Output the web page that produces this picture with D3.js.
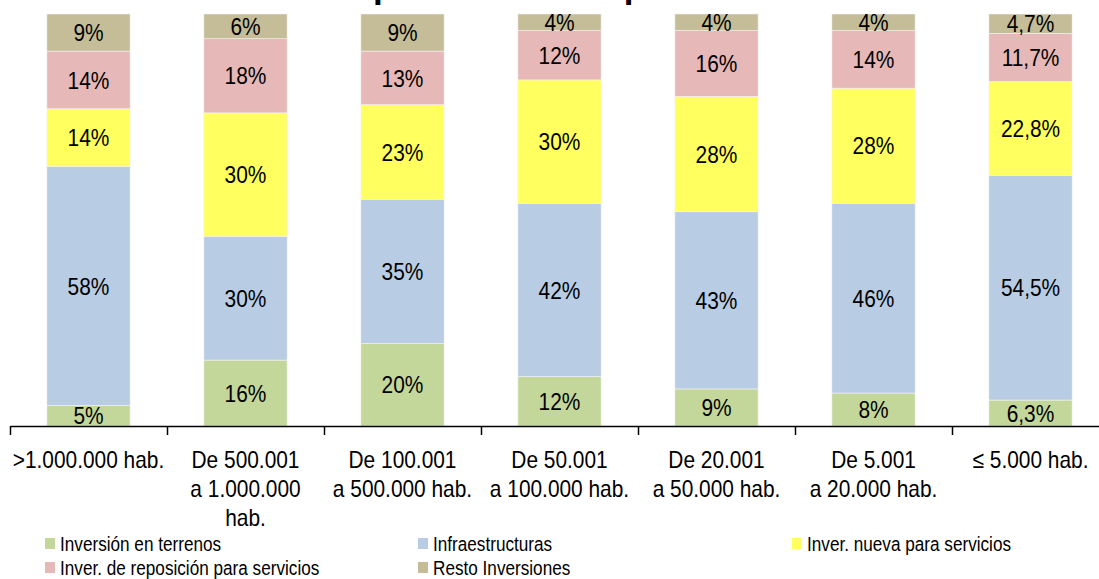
<!DOCTYPE html>
<html>
<head>
<meta charset="utf-8">
<script src="https://cdn.jsdelivr.net/npm/d3@7"></script>
<style>
  body { margin: 0; background: #fff; }
  text { font-family: "Liberation Sans", Arial, sans-serif; fill: #000; }
</style>
</head>
<body>
<svg width="1099" height="579"></svg>
<script>
// Data
var categories = [">1.000.000 hab.", "De 500.001|a 1.000.000|hab.", "De 100.001|a 500.000 hab.",
  "De 50.001|a 100.000 hab.", "De 20.001|a 50.000 hab.", "De 5.001|a 20.000 hab.", "≤ 5.000 hab."];
var seriesNames = ["Inversión en terrenos", "Infraestructuras", "Inver. nueva para servicios",
  "Inver. de reposición para servicios", "Resto Inversiones"];
var terrenos      = [5, 16, 20, 12, 9, 8, 6.3];
var infraestruct  = [58, 30, 35, 42, 43, 46, 54.5];
var nuevaServ     = [14, 30, 23, 30, 28, 28, 22.8];
var reposicion    = [14, 18, 13, 12, 16, 14, 11.7];
var resto         = [9, 6, 9, 4, 4, 4, 4.7];
var labelsTxt = [
  ["5%", "16%", "20%", "12%", "9%", "8%", "6,3%"],
  ["58%", "30%", "35%", "42%", "43%", "46%", "54,5%"],
  ["14%", "30%", "23%", "30%", "28%", "28%", "22,8%"],
  ["14%", "18%", "13%", "12%", "16%", "14%", "11,7%"],
  ["9%", "6%", "9%", "4%", "4%", "4%", "4,7%"]
];
var colors = ["#c4d79b", "#b8cce4", "#ffff5f", "#e6b8b7", "#c4bd97"];

var svg = d3.select("svg"),
  width = +svg.attr("width"),
  height = +svg.attr("height");

var plotLeft = 10, plotRight = 1109, plotBase = 426, plotTop = 14;
var squeeze = 0.87; // the fonts in the picture are a bit condensed

var x = d3.scaleBand().domain(d3.range(categories.length)).range([plotLeft, plotRight]).padding(0);
var y = d3.scaleLinear().domain([0, 100]).range([plotBase, plotTop]);
var barW = x.bandwidth() * 0.53;

var rows = categories.map(function (c, i) {
  return { i: i, terrenos: terrenos[i], infra: infraestruct[i], nueva: nuevaServ[i], repo: reposicion[i], resto: resto[i] };
});
var keys = ["terrenos", "infra", "nueva", "repo", "resto"];
var stacked = d3.stack().keys(keys)(rows);

// title (mostly cut off at the top)
var title = svg.append("text")
  .attr("y", -1.8)
  .attr("font-weight", "bold")
  .attr("font-size", 35)
  .text("Distribución de la inversión por tamaño de población");

// bars
var layers = svg.append("g").selectAll("g")
  .data(stacked)
  .enter().append("g")
  .attr("fill", function (d, k) { return colors[k]; });

layers.selectAll("rect")
  .data(function (d) { return d; })
  .enter().append("rect")
  .attr("x", function (d) { return x(d.data.i) + (x.bandwidth() - barW) / 2; })
  .attr("y", function (d) { return y(d[1]); })
  .attr("width", barW)
  .attr("height", function (d) { return y(d[0]) - y(d[1]); })
  .attr("stroke", "#f2f2f2")
  .attr("stroke-width", 0.6);

// segment labels
layers.each(function (layer, k) {
  d3.select(this).selectAll("text")
    .data(layer)
    .enter().append("text")
    .attr("transform", function (d) {
      return "translate(" + (x(d.data.i) + x.bandwidth() / 2) + "," + ((y(d[0]) + y(d[1])) / 2) + ") scale(" + squeeze + ",1)";
    })
    .attr("dy", "0.36em")
    .attr("text-anchor", "middle")
    .attr("font-size", 24)
    .text(function (d, j) { return labelsTxt[k][j]; });
});

// axis
var xb = d3.scaleLinear().domain([0, categories.length]).range([plotLeft, plotRight]);
var axis = svg.append("g")
  .attr("transform", "translate(0," + plotBase + ")")
  .call(d3.axisBottom(xb).ticks(categories.length).tickSize(9).tickSizeOuter(0).tickFormat(""));
axis.select(".domain").attr("stroke", "#000").attr("stroke-width", 1.5);
axis.selectAll(".tick line").attr("stroke", "#000").attr("stroke-width", 1.5);

var catLabels = svg.append("g").selectAll("text")
  .data(categories)
  .enter().append("text")
  .attr("transform", function (d, i) { return "translate(" + (x(i) + x.bandwidth() / 2) + ",468) scale(" + squeeze + ",1)"; })
  .attr("text-anchor", "middle")
  .attr("font-size", 24);
catLabels.each(function (d) {
  var t = d3.select(this);
  d.split("|").forEach(function (line, j) {
    t.append("tspan")
      .attr("x", 0)
      .attr("dy", j === 0 ? 0 : 29)
      .text(line);
  });
});

// legend
var legendPos = [[45, 538], [418, 538], [792, 538], [45, 562], [418, 562]];
var legend = svg.append("g").selectAll("g")
  .data(seriesNames)
  .enter().append("g")
  .attr("transform", function (d, i) { return "translate(" + legendPos[i][0] + "," + legendPos[i][1] + ")"; });
legend.append("rect")
  .attr("width", 10).attr("height", 11)
  .attr("fill", function (d, i) { return colors[i]; });
legend.append("text")
  .attr("transform", "translate(15,6) scale(0.88,1)")
  .attr("dy", "0.36em")
  .attr("font-size", 19.5)
  .text(function (d) { return d; });

// place the title so its descenders land where they appear in the picture
var tnode = title.node();
var s = tnode.textContent;
var p1 = tnode.getSubStringLength(0, s.indexOf("por"));
title.attr("x", 373 - p1);
</script>
</body>
</html>
